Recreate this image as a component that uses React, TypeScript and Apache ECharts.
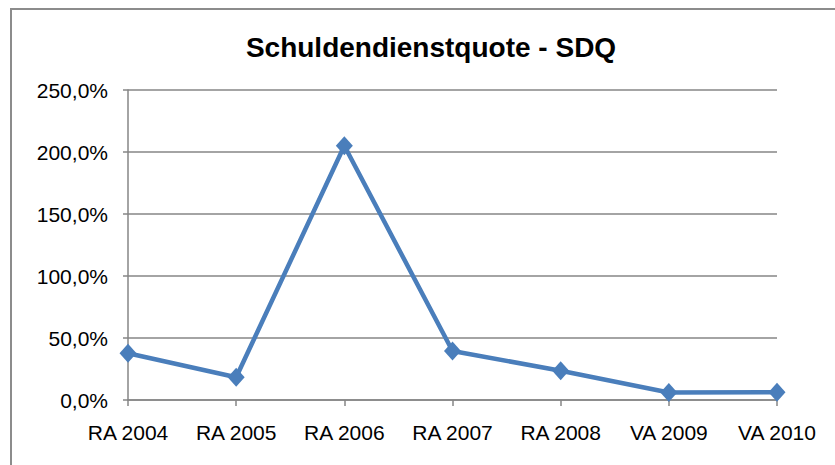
import React, { useEffect, useRef } from "react";
import * as echarts from "echarts";

const categories = ["RA 2004", "RA 2005", "RA 2006", "RA 2007", "RA 2008", "VA 2009", "VA 2010"];
const sdqValues = [37.7, 18.3, 205.0, 39.5, 23.6, 6.0, 6.2];
const yTicks = { min: 0, max: 250, interval: 50 };
const titleText = "Schuldendienstquote - SDQ";

const fmt = (v: number) => v.toFixed(1).replace(".", ",") + "%";

export default function App() {
  const ref = useRef<HTMLDivElement>(null);
  useEffect(() => {
    document.body.style.margin = "0";
    const chart = echarts.init(ref.current!, undefined, { renderer: "svg" });
    chart.setOption({
      animation: false,
      backgroundColor: "#ffffff",
      textStyle: { fontFamily: "Liberation Sans, Arial, sans-serif" },
      title: {
        text: titleText,
        left: 426,
        top: 28,
        textAlign: "center",
        textStyle: { fontSize: 28, fontWeight: "bold", color: "#000", fontFamily: "Liberation Sans, Arial, sans-serif" },
      },
      graphic: [
        {
          type: "rect",
          shape: { x: 11, y: 9, width: 900, height: 500 },
          style: { fill: "none", stroke: "#8c8c8c", lineWidth: 2 },
          silent: true,
        },
      ],
      grid: { left: 128, right: 58, top: 90, bottom: 65 },
      xAxis: {
        type: "category",
        data: categories,
        boundaryGap: false,
        axisLine: { lineStyle: { color: "#868686", width: 1.5 } },
        axisTick: { show: true, length: 6, alignWithLabel: true, lineStyle: { color: "#868686", width: 1.5 } },
        axisLabel: { color: "#000", fontSize: 21, margin: 22 },
      },
      yAxis: {
        type: "value",
        min: yTicks.min,
        max: yTicks.max,
        interval: yTicks.interval,
        axisLine: { show: true, lineStyle: { color: "#868686", width: 1.5 } },
        axisTick: { show: true, length: 5, lineStyle: { color: "#868686", width: 1.5 } },
        splitLine: { lineStyle: { color: "#868686", width: 1.5 } },
        axisLabel: { color: "#000", fontSize: 21, margin: 20, formatter: (v: number) => fmt(v) },
      },
      series: [
        {
          type: "line",
          data: sdqValues,
          symbol: "diamond",
          symbolSize: [17, 19],
          lineStyle: { color: "#4A7EBB", width: 4.5 },
          itemStyle: { color: "#4A7EBB" },
        },
      ],
    });
    return () => chart.dispose();
  }, []);
  return <div ref={ref} style={{ width: 835, height: 465 }} />;
}
